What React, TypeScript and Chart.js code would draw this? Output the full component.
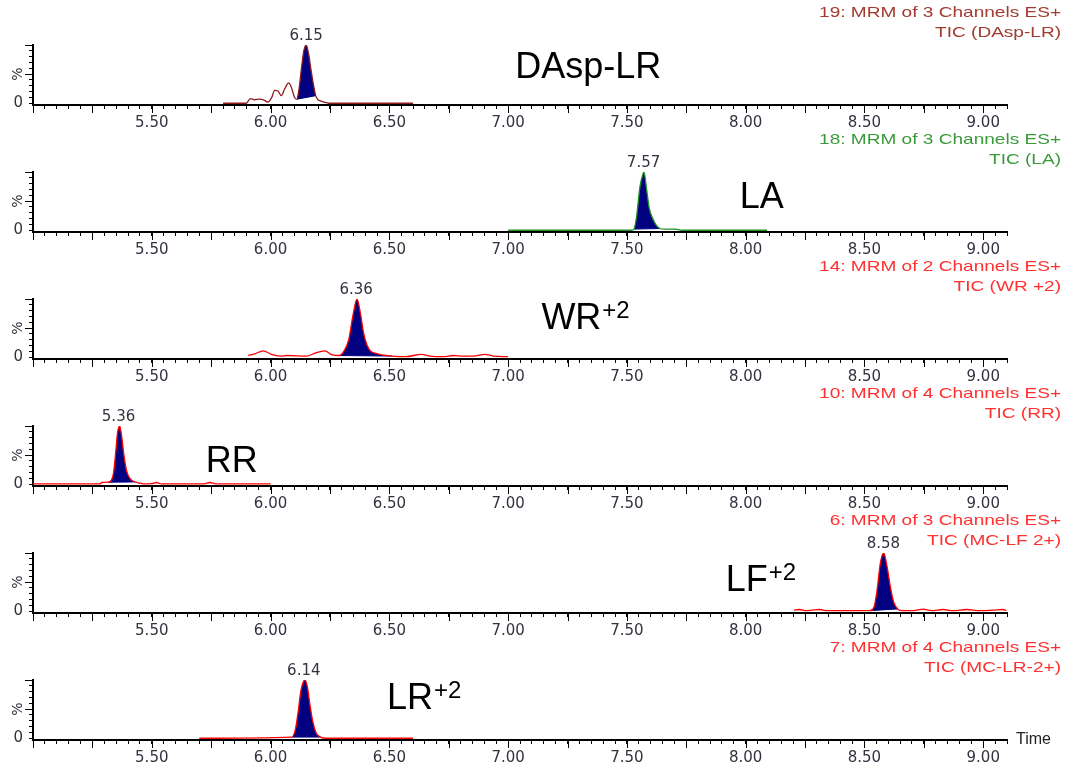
import React, { useEffect, useRef } from 'react';
import { Chart, registerables } from 'chart.js';
Chart.register(...registerables);

// ---------- axis ----------
const X_MIN = 5.0;
const X_MAX = 9.1;
const X_STEP = 0.05;
const Y_MIN = -3;
const Y_MAX = 100;
const X_TITLE = 'Time';

// ---------- headers ----------
const headerLine1 = [
  '19: MRM of 3 Channels ES+',
  '18: MRM of 3 Channels ES+',
  '14: MRM of 2 Channels ES+',
  '10: MRM of 4 Channels ES+',
  '6: MRM of 3 Channels ES+',
  '7: MRM of 4 Channels ES+',
];
const headerLine2 = ['TIC (DAsp-LR)', 'TIC (LA)', 'TIC (WR +2)', 'TIC (RR)', 'TIC (MC-LF 2+)', 'TIC (MC-LR-2+)'];
const headerColors = ['#a23a30', '#3a9a3a', '#ff3030', '#ff3030', '#ff3030', '#ff3030'];
const traceColors = ['#8e1c1c', '#1f8f1f', '#ff0000', '#ff0000', '#ff0000', '#ff0000'];

// ---------- compound labels ----------
const compoundNames = ['DAsp-LR', 'LA', 'WR', 'RR', 'LF', 'LR'];
const compoundSup = ['', '', '+2', '', '+2', '+2'];
const compoundX = [7.03, 7.975, 7.14, 5.727, 7.916, 6.49];
const compoundY = [43, 38, 48, 21, 35, 50];

// ---------- peaks ----------
const peakLabels = ['6.15', '7.57', '6.36', '5.36', '8.58', '6.14'];
const peakTimes = [6.15, 7.57, 6.36, 5.36, 8.58, 6.14];
const peakStart = [6.111, 7.53, 6.29, 5.317, 8.523, 6.091];
const peakEnd = [6.19, 7.639, 6.511, 5.429, 8.64, 6.21];

// ---------- traces (time min, intensity %) ----------
const dAspTimes = [5.80, 5.898, 5.915, 5.933, 5.95, 5.97, 5.989, 6.005, 6.017, 6.031, 6.045, 6.06, 6.076, 6.087, 6.101, 6.111, 6.12, 6.13, 6.14, 6.15, 6.16, 6.17, 6.18, 6.19, 6.20, 6.21, 6.225, 6.245, 6.60];
const dAspValues = [0, 0, 8, 6, 7, 6, 2, 10, 22, 21, 13, 25, 35, 28, 10, 7, 25, 60, 90, 100, 85, 58, 33, 13, 6, 4, 2, 0, 0];

const laTimes = [7.00, 7.52, 7.53, 7.541, 7.555, 7.567, 7.572, 7.583, 7.594, 7.611, 7.625, 7.639, 7.66, 7.70, 7.716, 7.73, 8.09];
const laValues = [0, 0, 2, 24, 75, 96, 100, 70, 38, 18, 8, 3, 2, 2, 1, 0, 0];

const wrTimes = [5.906, 5.934, 5.969, 6.004, 6.04, 6.07, 6.152, 6.187, 6.228, 6.26, 6.29, 6.308, 6.329, 6.346, 6.364, 6.378, 6.392, 6.406, 6.42, 6.441, 6.469, 6.511, 6.568, 6.636, 6.671, 6.727, 6.77, 6.81, 6.854, 6.902, 6.937, 7.00];
const wrValues = [3, 6, 11, 5, 2, 3, 2, 7, 11, 4, 3, 10, 30, 70, 100, 76, 41, 21, 11, 7, 4, 2, 1, 5, 2, 1, 3, 2, 2, 5, 2, 1];

const rrTimes = [5.00, 5.282, 5.289, 5.317, 5.338, 5.348, 5.356, 5.365, 5.373, 5.383, 5.394, 5.408, 5.429, 5.45, 5.471, 5.50, 5.52, 5.54, 5.72, 5.745, 5.77, 6.00];
const rrValues = [0.5, 0.5, 3, 3.5, 17, 54, 89, 100, 83, 49, 23, 10, 4, 2, 0.5, 1, 3, 0.5, 0.5, 3, 0.5, 0.5];

const lfTimes = [8.203, 8.226, 8.256, 8.28, 8.312, 8.34, 8.424, 8.523, 8.54, 8.553, 8.567, 8.581, 8.595, 8.609, 8.623, 8.64, 8.662, 8.705, 8.747, 8.782, 8.831, 8.873, 8.93, 8.986, 9.042, 9.083, 9.097];
const lfValues = [2, 3, 1, 2, 3, 1, 1, 1, 7, 36, 83, 100, 77, 42, 16, 4, 1, 1, 3.5, 1, 3, 1, 3, 1, 2, 3, 1];

const lrTimes = [5.70, 6.091, 6.105, 6.116, 6.127, 6.138, 6.145, 6.155, 6.166, 6.178, 6.192, 6.21, 6.231, 6.60];
const lrValues = [0, 2, 16, 45, 80, 97, 100, 88, 57, 28, 9, 2, 0, 0];

const panelTimes = [dAspTimes, laTimes, wrTimes, rrTimes, lfTimes, lrTimes];
const panelValues = [dAspValues, laValues, wrValues, rrValues, lfValues, lrValues];

const AXIS_TEXT = '#333340';
const FILL = '#000080';
const PANEL_W = 1065;
const PANEL_H = 127;

function isMultiple(v: number, m: number) {
  const q = v / m;
  return Math.abs(q - Math.round(q)) < 1e-6;
}

function makeOverlay(i: number) {
  return {
    id: 'overlay' + i,
    afterDraw(chart: any) {
      const { ctx, chartArea } = chart;
      const xs = chart.scales.x;
      const ys = chart.scales.y;
      ctx.save();
      // longer x ticks every 0.25
      ctx.strokeStyle = '#000';
      ctx.lineWidth = 1;
      xs.ticks.forEach((tk: any) => {
        if (isMultiple(tk.value, 0.25)) {
          const px = Math.round(xs.getPixelForValue(tk.value)) + 0.5;
          ctx.beginPath();
          ctx.moveTo(px, chartArea.bottom + 1);
          ctx.lineTo(px, chartArea.bottom + 8);
          ctx.stroke();
        }
      });
      // longer y ticks at 50 and 100
      [50, 100].forEach((v) => {
        const py = Math.round(ys.getPixelForValue(v)) + 0.5;
        ctx.beginPath();
        ctx.moveTo(chartArea.left - 8, py);
        ctx.lineTo(chartArea.left, py);
        ctx.stroke();
      });
      // % label
      ctx.save();
      ctx.fillStyle = AXIS_TEXT;
      ctx.font = '14px "DejaVu Sans"';
      ctx.translate(18, ys.getPixelForValue(50));
      ctx.rotate(-Math.PI / 2);
      ctx.textAlign = 'center';
      ctx.textBaseline = 'middle';
      ctx.fillText('%', 0, 0);
      ctx.restore();
      // peak label
      ctx.fillStyle = AXIS_TEXT;
      ctx.font = '15px "DejaVu Sans"';
      ctx.textAlign = 'center';
      ctx.textBaseline = 'bottom';
      ctx.fillText(peakLabels[i], xs.getPixelForValue(peakTimes[i]), ys.getPixelForValue(100) - 1);
      // x-axis title on the last panel
      if (i === panelTimes.length - 1) {
        ctx.fillStyle = '#222';
        ctx.font = '16px "Liberation Sans"';
        ctx.textAlign = 'left';
        ctx.textBaseline = 'middle';
        ctx.fillText(X_TITLE, chartArea.right + 9, chartArea.bottom);
      }
      // header (two lines, right aligned, horizontally stretched)
      ctx.fillStyle = headerColors[i];
      ctx.font = '15px "Liberation Sans"';
      ctx.textAlign = 'right';
      ctx.textBaseline = 'middle';
      [headerLine1[i], headerLine2[i]].forEach((txt, k) => {
        ctx.save();
        ctx.translate(1061, 13 + k * 20);
        ctx.scale(1.27, 1);
        ctx.fillText(txt, 0, 0);
        ctx.restore();
      });
      // compound label
      ctx.fillStyle = '#000';
      ctx.font = '36px "Liberation Sans"';
      ctx.textAlign = 'left';
      ctx.textBaseline = 'alphabetic';
      const lx = xs.getPixelForValue(compoundX[i]);
      const ly = ys.getPixelForValue(compoundY[i]);
      ctx.fillText(compoundNames[i], lx, ly);
      if (compoundSup[i]) {
        const w = ctx.measureText(compoundNames[i]).width;
        ctx.font = '24px "Liberation Sans"';
        ctx.fillText(compoundSup[i], lx + w + 1, ly - 11);
      }
      ctx.restore();
    },
  };
}

function Panel({ index }: { index: number }) {
  const ref = useRef<HTMLCanvasElement | null>(null);
  useEffect(() => {
    if (!ref.current) return;
    const times = panelTimes[index];
    const vals = panelValues[index];
    const trace = times.map((t, k) => ({ x: t, y: vals[k] }));
    const peak = trace.filter((p) => p.x >= peakStart[index] - 1e-9 && p.x <= peakEnd[index] + 1e-9);
    const base = [peak[0], peak[peak.length - 1]];
    const chart = new Chart(ref.current, {
      type: 'line',
      data: {
        datasets: [
          {
            data: trace,
            borderColor: traceColors[index],
            borderWidth: 1.3,
            pointRadius: 0,
            cubicInterpolationMode: 'monotone',
            fill: false,
          },
          {
            data: peak,
            borderColor: 'rgba(0,0,0,0)',
            borderWidth: 0,
            pointRadius: 0,
            cubicInterpolationMode: 'monotone',
            backgroundColor: FILL,
            fill: '+1',
          },
          {
            data: base,
            borderColor: FILL,
            borderWidth: 1,
            pointRadius: 0,
            fill: false,
          },
        ],
      },
      options: {
        animation: false,
        responsive: false,
        maintainAspectRatio: false,
        events: [],
        layout: { padding: { top: 45, right: 58, left: 0, bottom: 0 } },
        plugins: { legend: { display: false }, tooltip: { enabled: false } },
        scales: {
          x: {
            type: 'linear',
            min: X_MIN,
            max: X_MAX,
            afterFit: (s: any) => {
              s.height = 22;
            },
            border: { display: true, color: '#000', width: 2 },
            grid: { display: true, drawOnChartArea: false, drawTicks: true, tickLength: 4, color: '#000' },
            ticks: {
              stepSize: X_STEP,
              autoSkip: false,
              includeBounds: false,
              maxRotation: 0,
              minRotation: 0,
              padding: 5,
              color: AXIS_TEXT,
              font: { family: 'DejaVu Sans', size: 15 },
              callback: (v: any) => {
                const n = Number(v);
                return isMultiple(n, 0.5) && n >= 5.49 && n <= 9.01 ? n.toFixed(2) : '';
              },
            },
          },
          y: {
            type: 'linear',
            min: Y_MIN,
            max: Y_MAX,
            afterFit: (s: any) => {
              s.width = 33;
            },
            border: { display: true, color: '#000', width: 2 },
            grid: { display: true, drawOnChartArea: false, drawTicks: true, tickLength: 4, color: '#000' },
            ticks: {
              stepSize: 10,
              autoSkip: false,
              includeBounds: false,
              padding: 6,
              color: AXIS_TEXT,
              font: { family: 'DejaVu Sans', size: 15 },
              callback: (v: any) => (Number(v) === 0 ? '0' : ''),
            },
          },
        },
      },
      plugins: [makeOverlay(index)],
    } as any);
    return () => chart.destroy();
  }, [index]);
  return (
    <div style={{ width: PANEL_W, height: PANEL_H, position: 'relative' }}>
      <canvas ref={ref} width={PANEL_W} height={PANEL_H} style={{ display: 'block', width: PANEL_W, height: PANEL_H }} />
    </div>
  );
}

export default function App() {
  return (
    <div style={{ position: 'absolute', left: 0, top: 0, width: PANEL_W, height: 765, background: '#fff' }}>
      {panelTimes.map((_, i) => (
        <Panel key={i} index={i} />
      ))}
    </div>
  );
}
